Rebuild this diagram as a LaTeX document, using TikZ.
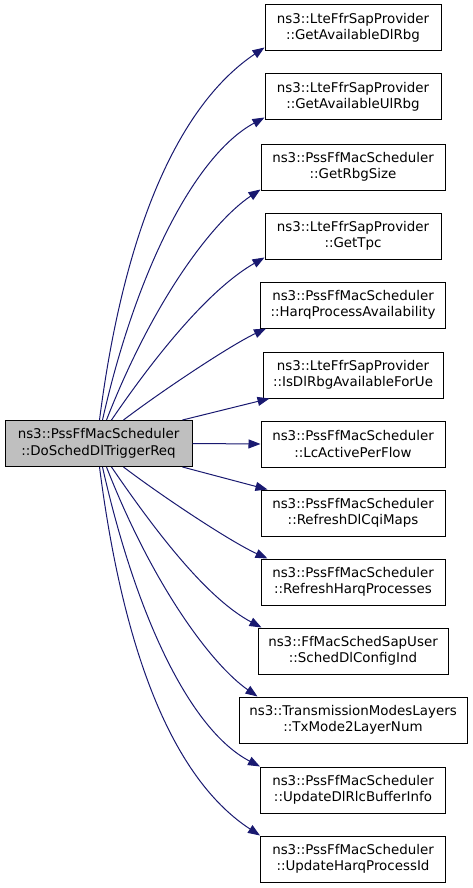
\documentclass[tikz,border=0pt]{standalone}
\usepackage{fontspec}
\setmainfont{DejaVu Sans}
\usetikzlibrary{arrows.meta,calc}
\definecolor{edgeblue}{RGB}{25,25,112}
\definecolor{srcgray}{RGB}{191,191,191}
\tikzset{
  fn/.style={draw=black, line width=1pt, fill=white, minimum height=46pt, inner sep=0pt,
    align=center, font=\fontsize{13.4}{16.5}\selectfont},
  src/.style={fn, fill=srcgray},
  call/.style={draw=edgeblue, line width=1pt, -{Triangle[length=12pt,width=9pt]}},
}
\begin{document}
\begin{tikzpicture}[x=1pt,y=-1pt]
\useasboundingbox (0,0) rectangle (472,888);
\node[src, minimum width=187pt] (s) at (98.5,443.5) {ns3::PssFfMacScheduler\\::DoSchedDlTriggerReq};
\node[fn, minimum width=176pt] (t1) at (353,28) {ns3::LteFfrSapProvider\\::GetAvailableDlRbg};
\node[fn, minimum width=176pt] (t2) at (353,97) {ns3::LteFfrSapProvider\\::GetAvailableUlRbg};
\node[fn, minimum width=184pt] (t3) at (353,167) {ns3::PssFfMacScheduler\\::GetRbgSize};
\node[fn, minimum width=176pt] (t4) at (353,236) {ns3::LteFfrSapProvider\\::GetTpc};
\node[fn, minimum width=185pt] (t5) at (353,305) {ns3::PssFfMacScheduler\\::HarqProcessAvailability};
\node[fn, minimum width=180pt] (t6) at (353,375) {ns3::LteFfrSapProvider\\::IsDlRbgAvailableForUe};
\node[fn, minimum width=184pt] (t7) at (353,444) {ns3::PssFfMacScheduler\\::LcActivePerFlow};
\node[fn, minimum width=184pt] (t8) at (353,513) {ns3::PssFfMacScheduler\\::RefreshDlCqiMaps};
\node[fn, minimum width=184pt] (t9) at (353,582) {ns3::PssFfMacScheduler\\::RefreshHarqProcesses};
\node[fn, minimum width=190pt] (t10) at (353,651) {ns3::FfMacSchedSapUser\\::SchedDlConfigInd};
\node[fn, minimum width=228pt] (t11) at (353,720) {ns3::TransmissionModesLayers\\::TxMode2LayerNum};
\node[fn, minimum width=185pt] (t12) at (353,790) {ns3::PssFfMacScheduler\\::UpdateDlRlcBufferInfo};
\node[fn, minimum width=185pt] (t13) at (353,859) {ns3::PssFfMacScheduler\\::UpdateHarqProcessId};

\draw[call] ($(s.north west)+(95,0)$) .. controls (125,221) and (182,103) .. ($(t1.south west)+(0,-4)$);
\draw[call] ($(s.north west)+(98,0)$) .. controls (136,271) and (195,155) .. ($(t2.south west)+(0,-3)$);
\draw[call] ($(s.north west)+(102,0)$) .. controls (153,301) and (212,222) .. ($(t3.south west)+(0,-1)$);
\draw[call] ($(s.north west)+(107,0)$) .. controls (162,346) and (213,287) .. ($(t4.south west)+(0,-2)$);
\draw[call] ($(s.north west)+(119,0)$) .. controls (163,390) and (231,345) .. ($(t5.south west)+(6,0)$);
\draw[call] ($(s.north west)+(178,0)$) -- ($(t6.south west)+(7,0)$);
\draw[call] (s.east) -- (t7.west);
\draw[call] ($(s.south west)+(178,0)$) -- ($(t8.north west)+(7,0)$);
\draw[call] ($(s.south west)+(119,0)$) .. controls (163,497) and (231,542) .. ($(t9.north west)+(7,0)$);
\draw[call] ($(s.south west)+(107,0)$) .. controls (162,541) and (210,600) .. ($(t10.north west)+(4,0)$);
\draw[call] ($(s.south west)+(102,0)$) .. controls (153,586) and (212,665) .. ($(t11.north west)+(19,0)$);
\draw[call] ($(s.south west)+(98,0)$) .. controls (136,616) and (190,730) .. (t12.north west);
\draw[call] ($(s.south west)+(95,0)$) .. controls (125,666) and (178,782) .. (t13.north west);
\end{tikzpicture}
\end{document}
